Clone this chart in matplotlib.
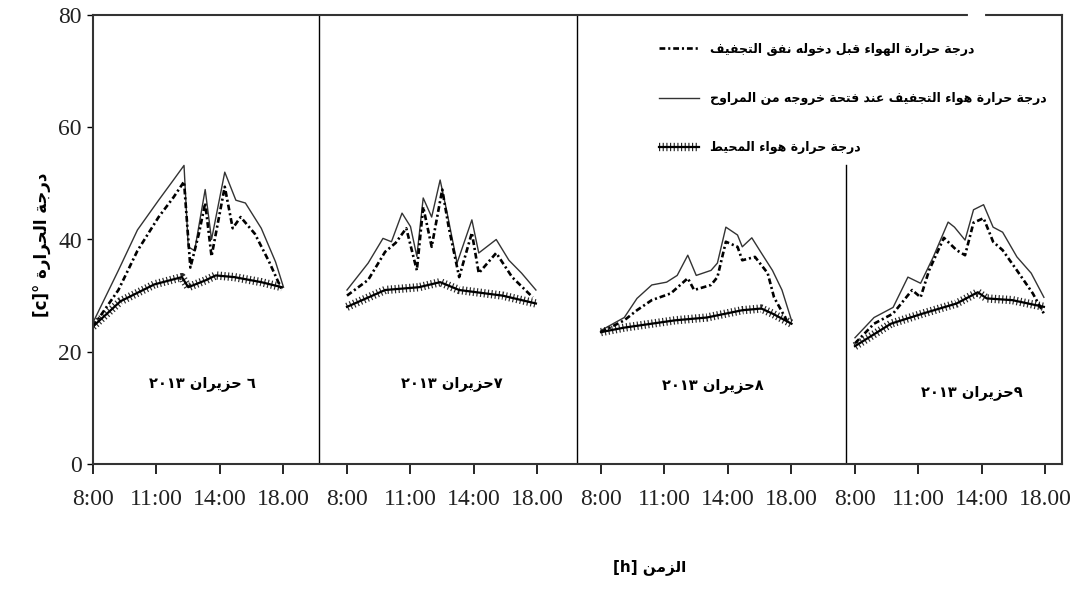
"""Air temperatures in the solar tunnel dryer, 6-9 June 2013."""
import matplotlib
import numpy as np

matplotlib.use("Agg")
import matplotlib.pyplot as plt  # noqa: E402
from matplotlib.lines import Line2D  # noqa: E402
from matplotlib.legend_handler import HandlerTuple  # noqa: E402

TICK_HOURS = [8, 11, 14, 18]
TICK_LABELS = ["8:00", "11:00", "14:00", "18.00"]
DAY_LABELS = ["٦ حزيران", "٧حزيران", "٨حزيران", "٩حزيران"]
YEAR = "٢٠١٣"

LABEL_INLET = "درجة حرارة الهواء قبل دخوله نفق التجفيف"
LABEL_OUTLET = "درجة حرارة هواء التجفيف عند فتحة خروجه من المراوح"
LABEL_AMBIENT = "درجة حرارة هواء المحيط"

# outlet air (fans)
OUTLET_HOURS = [
    [8.0, 9.2, 10.1, 11.1, 11.8, 12.3, 12.5, 12.8, 13.3, 13.6, 14.3, 15.0, 15.6, 16.6, 17.5, 18.0],
    [8.0, 9.0, 9.7, 10.1, 10.6, 11.0, 11.3, 11.6, 12.0, 12.4, 12.7, 13.2, 13.9, 14.3, 15.4, 16.2, 17.0, 17.9],
    [8.0, 9.1, 9.7, 10.4, 11.1, 11.6, 12.1, 12.5, 13.2, 13.5, 13.9, 14.6, 14.9, 15.5, 16.1, 16.8, 17.4, 18.0],
    [8.0, 8.9, 9.8, 10.5, 11.1, 11.7, 12.4, 12.7, 13.2, 13.6, 14.1, 14.7, 15.3, 16.2, 17.1, 17.9],
]
OUTLET_TEMPS = [
    [25.2, 34.5, 41.7, 47.0, 50.6, 53.2, 38.7, 38.0, 48.9, 40.0, 52.0, 47.0, 46.5, 42.0, 36.0, 31.5],
    [31.0, 35.8, 40.2, 39.6, 44.7, 42.3, 37.0, 47.4, 44.0, 50.6, 45.3, 35.8, 43.5, 37.6, 40.0, 36.3, 34.0, 31.0],
    [23.8, 26.1, 29.5, 31.9, 32.4, 33.6, 37.2, 33.6, 34.5, 35.8, 42.2, 40.8, 38.7, 40.3, 37.6, 34.5, 31.0, 25.6],
    [22.5, 26.1, 27.9, 33.3, 32.2, 36.9, 43.1, 42.2, 39.9, 45.3, 46.2, 42.2, 41.3, 36.9, 34.0, 29.7],
]

# air entering the tunnel
INLET_HOURS = [
    [8.0, 9.2, 10.1, 11.1, 11.8, 12.3, 12.6, 13.0, 13.3, 13.6, 14.3, 14.8, 15.3, 16.2, 17.1, 17.9],
    [8.0, 9.0, 9.8, 10.3, 10.8, 11.3, 11.6, 12.0, 12.5, 12.8, 13.3, 13.9, 14.3, 15.4, 16.4, 17.7],
    [8.0, 9.1, 9.7, 10.4, 11.3, 12.1, 12.4, 13.2, 13.5, 13.9, 14.6, 14.9, 15.7, 16.5, 16.9, 17.7],
    [8.0, 8.9, 9.8, 10.7, 11.1, 11.5, 12.2, 12.8, 13.2, 13.6, 14.1, 14.7, 15.3, 16.2, 17.2, 17.9],
]
INLET_TEMPS = [
    [24.5, 31.0, 38.0, 44.0, 47.5, 50.3, 35.0, 41.0, 46.5, 37.0, 49.4, 42.0, 44.0, 41.0, 36.0, 31.0],
    [30.0, 32.8, 37.8, 39.4, 42.0, 34.5, 45.8, 38.7, 48.9, 42.3, 33.3, 41.2, 34.0, 37.6, 33.3, 29.7],
    [23.5, 25.6, 27.4, 29.2, 30.4, 33.1, 31.0, 31.9, 33.3, 39.6, 38.7, 36.3, 36.9, 34.0, 29.7, 25.6],
    [21.5, 25.0, 26.8, 31.0, 29.7, 34.5, 40.3, 38.1, 37.2, 43.0, 43.8, 39.6, 38.1, 34.5, 30.4, 26.8],
]

# ambient air
AMBIENT_HOURS = [
    [8.0, 9.3, 10.9, 12.2, 12.5, 13.3, 13.8, 14.9, 16.6, 17.9],
    [8.0, 9.8, 11.4, 12.4, 13.3, 15.8, 17.9],
    [8.0, 9.1, 11.5, 13.0, 14.9, 16.1, 16.8, 18.0],
    [8.0, 9.7, 11.2, 12.8, 13.8, 14.3, 15.9, 17.9],
]
AMBIENT_TEMPS = [
    [24.5, 29.0, 32.0, 33.3, 31.5, 32.7, 33.6, 33.3, 32.4, 31.5],
    [28.0, 31.0, 31.5, 32.4, 31.0, 30.0, 28.6],
    [23.5, 24.3, 25.6, 26.1, 27.4, 27.7, 26.8, 25.0],
    [21.0, 25.0, 26.8, 28.6, 30.6, 29.5, 29.2, 28.0],
]

# Arabic presentation forms: first code point, number of forms (iso, fin, ini, med)
FORMS = {
    "ء": (0xFE80, 1), "آ": (0xFE81, 2), "أ": (0xFE83, 2), "ؤ": (0xFE85, 2),
    "إ": (0xFE87, 2), "ئ": (0xFE89, 4), "ا": (0xFE8D, 2), "ب": (0xFE8F, 4),
    "ة": (0xFE93, 2), "ت": (0xFE95, 4), "ث": (0xFE99, 4), "ج": (0xFE9D, 4),
    "ح": (0xFEA1, 4), "خ": (0xFEA5, 4), "د": (0xFEA9, 2), "ذ": (0xFEAB, 2),
    "ر": (0xFEAD, 2), "ز": (0xFEAF, 2), "س": (0xFEB1, 4), "ش": (0xFEB5, 4),
    "ص": (0xFEB9, 4), "ض": (0xFEBD, 4), "ط": (0xFEC1, 4), "ظ": (0xFEC5, 4),
    "ع": (0xFEC9, 4), "غ": (0xFECD, 4), "ف": (0xFED1, 4), "ق": (0xFED5, 4),
    "ك": (0xFED9, 4), "ل": (0xFEDD, 4), "م": (0xFEE1, 4), "ن": (0xFEE5, 4),
    "ه": (0xFEE9, 4), "و": (0xFEED, 2), "ى": (0xFEEF, 2), "ي": (0xFEF1, 4),
}


def rtl(text):
    """Join the letters and flip to visual order (matplotlib has no shaping)."""
    out = []
    for i, ch in enumerate(text):
        if ch not in FORMS:
            out.append(ch)
            continue
        base, n = FORMS[ch]
        prev = text[i - 1] if i > 0 else ""
        nxt = text[i + 1] if i + 1 < len(text) else ""
        jp = prev in FORMS and FORMS[prev][1] == 4
        jn = n == 4 and nxt in FORMS
        if n == 1:
            form = 0
        elif jp and jn:
            form = 3
        elif jp:
            form = 1
        elif jn:
            form = 2
        else:
            form = 0
        out.append(chr(base + form))
    return "".join(out)[::-1]


def to_x(day, hours):
    # each day spans three tick slots: 8 -> 11 -> 14 -> 18
    return 4 * day + np.interp(hours, TICK_HOURS, [0, 1, 2, 3])


AR = dict(family=["DejaVu Sans"], fontweight="bold")
INLET_STYLE = dict(color="black", lw=1.9, linestyle=(0, (2.2, 1.1, 0.8, 1.1)))
OUTLET_STYLE = dict(color="#333333", lw=1.0)
AMBIENT_LINE = dict(color="black", lw=1.6)
AMBIENT_TICKS = dict(color="black", lw=6, linestyle=(0, (0.14, 0.3)),
                     dash_capstyle="butt", alpha=0.85)


def main() -> None:
    fig = plt.figure(figsize=(10.75, 6.07), dpi=100)
    ax = fig.add_axes([93 / 1075, 143 / 607, 969 / 1075, 449 / 607])

    for d in range(4):
        ax.plot(to_x(d, OUTLET_HOURS[d]), OUTLET_TEMPS[d], **OUTLET_STYLE)
        ax.plot(to_x(d, INLET_HOURS[d]), INLET_TEMPS[d], **INLET_STYLE)
        ax.plot(to_x(d, AMBIENT_HOURS[d]), AMBIENT_TEMPS[d], **AMBIENT_LINE)
        ax.plot(to_x(d, AMBIENT_HOURS[d]), AMBIENT_TEMPS[d], **AMBIENT_TICKS)

    # day separators
    ax.axvline(3.56, color="black", lw=1.0)
    ax.axvline(7.62, color="black", lw=1.0)
    ax.axvline(11.86, ymax=0.666, color="black", lw=1.0)

    label_pos = [(1.72, 14.4), (5.65, 14.4), (9.76, 13.9), (13.84, 12.8)]
    for (x, y), lab in zip(label_pos, DAY_LABELS):
        ax.text(x, y, YEAR + " " + rtl(lab), ha="center", va="center",
                fontsize=10.5, **AR)

    ax.set_xlim(0, 15.26)
    ax.set_ylim(0, 80)
    ax.set_xticks(np.arange(16))
    ax.set_xticklabels(TICK_LABELS * 4)
    ax.set_yticks([0, 20, 40, 60, 80])
    for lab in ax.get_xticklabels() + ax.get_yticklabels():
        lab.set_family("Liberation Serif")
        lab.set_fontsize(17)
        lab.set_color("#222222")
    ax.tick_params(axis="x", length=7, width=1.2, pad=11)
    ax.tick_params(axis="y", length=4, width=1.0, pad=4)
    for sp in ax.spines.values():
        sp.set_linewidth(1.5)
        sp.set_color("#333333")
    # small break in the top border
    ax.plot([13.81, 14.02], [80, 80], color="white", lw=3, clip_on=False,
            zorder=5)

    handles = [
        Line2D([], [], **INLET_STYLE),
        Line2D([], [], **OUTLET_STYLE),
        (Line2D([], [], **AMBIENT_LINE), Line2D([], [], **AMBIENT_TICKS)),
    ]
    labels = [rtl(LABEL_INLET), rtl(LABEL_OUTLET), rtl(LABEL_AMBIENT)]
    ax.legend(handles, labels, loc="upper left",
              bbox_to_anchor=(0.572, 0.963), frameon=False,
              handlelength=3.2, handletextpad=0.9, labelspacing=2.9,
              handler_map={tuple: HandlerTuple(ndivide=1)},
              prop=dict(family="DejaVu Sans", weight="bold", size=9))

    fig.text(42 / 1075, 1 - 245 / 607, "[c]° " + rtl("درجة الحرارة"),
             rotation=90, ha="center", va="center", fontsize=12, **AR)
    fig.text(650 / 1075, 1 - 567 / 607, "[h] " + rtl("الزمن"),
             ha="center", va="center", fontsize=11, **AR)

    fig.savefig("out.png", dpi=100)


if __name__ == "__main__":
    main()
